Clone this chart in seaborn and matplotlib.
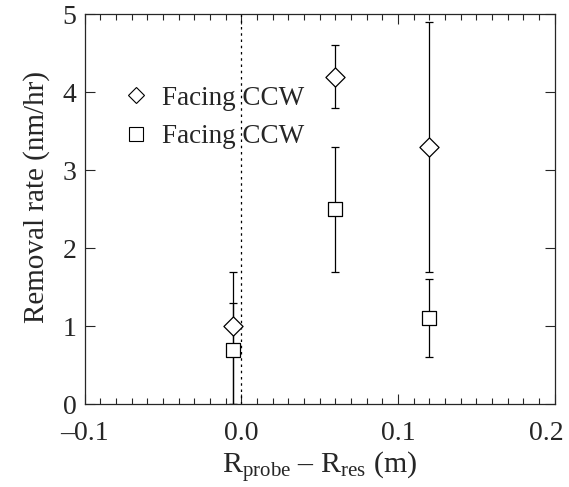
import numpy as np
import pandas as pd
import matplotlib
matplotlib.use("Agg")
import matplotlib.pyplot as plt
import matplotlib.transforms as mtransforms
from matplotlib.lines import Line2D
from matplotlib.ticker import MultipleLocator
import seaborn as sns

# data
x_pos = [-0.0055, 0.0595, 0.12]
diamond_y = [1.0, 4.2, 3.3]
diamond_lo = [0.0, 3.8, 1.7]
diamond_hi = [1.7, 4.6, 4.9]
square_y = [0.7, 2.5, 1.1]
square_lo = [0.0, 1.7, 0.6]
square_hi = [1.3, 3.3, 1.6]
legend_labels = ["Facing CCW", "Facing CCW"]
xtick_vals = [-0.1, 0.0, 0.1, 0.2]
xtick_labels = ["\u20130.1", "0.0", "0.1", "0.2"]

sns.set_style("ticks")
plt.rcParams["font.family"] = ["Liberation Serif", "DejaVu Serif"]
plt.rcParams["mathtext.fontset"] = "custom"
plt.rcParams["mathtext.rm"] = "Liberation Serif"
plt.rcParams["mathtext.it"] = "Liberation Serif"

df = pd.DataFrame({
    "x": x_pos * 2,
    "y": diamond_y + square_y,
    "lo": diamond_lo + square_lo,
    "hi": diamond_hi + square_hi,
    "kind": ["diamond"] * 3 + ["square"] * 3,
})

fig = plt.figure(figsize=(5.69, 4.87), dpi=100)
ax = fig.add_axes([0.149, 0.170, 0.826, 0.801])

# error bars
for kind in ["diamond", "square"]:
    d = df[df["kind"] == kind]
    ax.errorbar(d["x"], d["y"], yerr=[d["y"] - d["lo"], d["hi"] - d["y"]],
                fmt="none", ecolor="black", elinewidth=0.9, capsize=3,
                capthick=0.9, zorder=2)

sns.scatterplot(data=df[df["kind"] == "diamond"], x="x", y="y", marker="D",
                s=95, facecolor="white", edgecolor="black", linewidth=0.9,
                ax=ax, zorder=3)
sns.scatterplot(data=df[df["kind"] == "square"], x="x", y="y", marker="s",
                s=90, facecolor="white", edgecolor="black", linewidth=0.9,
                ax=ax, zorder=3)

ax.axvline(0.0, color="black", linestyle=(0, (2, 3)), linewidth=0.9, zorder=1)

ax.set_xlim(-0.1, 0.2)
ax.set_ylim(0, 5)
ax.xaxis.set_minor_locator(MultipleLocator(0.01))
ax.yaxis.set_major_locator(MultipleLocator(1))
ax.set_xticks(xtick_vals)
ax.set_xticklabels(xtick_labels)
ax.tick_params(axis="both", which="both", direction="in", top=True, right=True,
               labelsize=20, width=0.8)
ax.tick_params(axis="x", which="major", length=7, pad=12)
ax.tick_params(axis="x", which="minor", length=4)
ax.tick_params(axis="y", which="major", length=7, pad=6)
for sp in ax.spines.values():
    sp.set_linewidth(0.9)

# last x label sits a little left of its tick so it stays inside the figure
lab = ax.get_xticklabels()[-1]
lab.set_transform(lab.get_transform() +
                  mtransforms.ScaledTranslation(-6 / 72, 0, fig.dpi_scale_trans))

ax.set_xlabel("R$_{\\mathrm{probe}}$ \u2013 R$_{\\mathrm{res}}$ (m)",
              fontsize=21.5, labelpad=3)
ax.set_ylabel("Removal rate (nm/hr)", fontsize=21, labelpad=9)
ax.yaxis.label.set_y(0.53)

handles = [
    Line2D([], [], marker="D", linestyle="none", markersize=8,
           markerfacecolor="white", markeredgecolor="black", markeredgewidth=0.8),
    Line2D([], [], marker="s", linestyle="none", markersize=10.5,
           markerfacecolor="white", markeredgecolor="black", markeredgewidth=0.8),
]
ax.legend(handles, legend_labels, loc="upper left", bbox_to_anchor=(0.04, 0.865),
          frameon=False, fontsize=19.5, handlelength=1.0, handletextpad=0.45,
          labelspacing=0.5, borderaxespad=0.3)

fig.savefig("out.png", dpi=100)
